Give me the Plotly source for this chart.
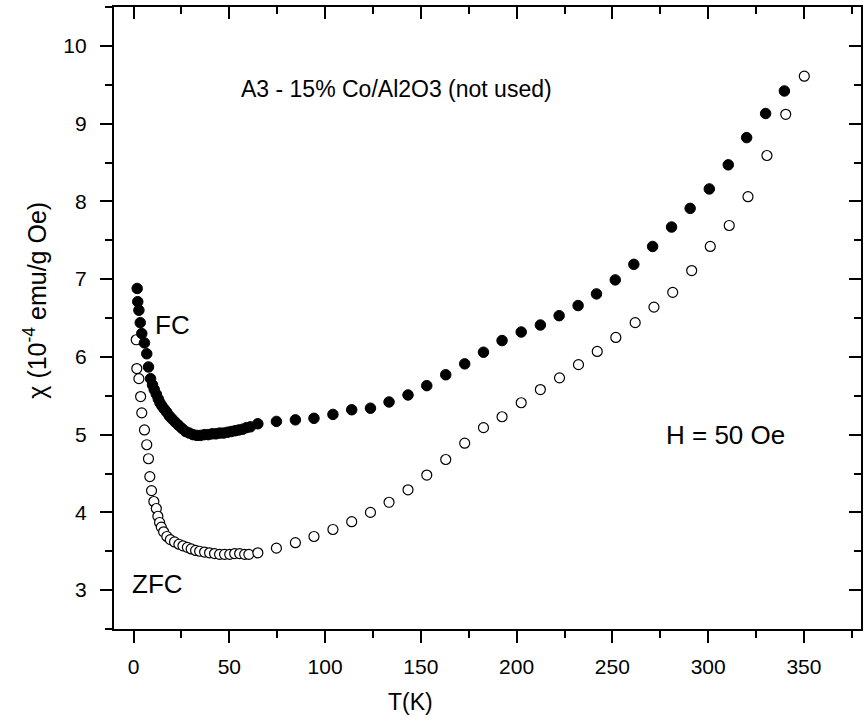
import plotly.graph_objects as go

# Field-cooled susceptibility, chi in 1e-4 emu/(g Oe)
fc_T = [1.9, 2.2, 2.8, 3.5, 4.3, 5.7, 6.9, 7.8, 8.9, 9.9, 10.8, 11.9, 12.9, 13.8,
        14.8, 16.0, 17.3, 18.7, 20.2, 21.8, 23.5, 25.3, 27.2, 29.1, 31.0, 33.0,
        35.0, 37.0, 39.0, 41.0, 43.0, 45.0, 47.0, 49.0, 51.0, 53.0, 55.0, 57.0,
        59.0, 61.0, 64.9, 74.6, 84.5, 94.2, 104.1, 113.9, 123.7, 133.4, 143.3,
        153.1, 163.0, 172.9, 182.7, 192.4, 202.4, 212.4, 222.2, 232.1, 241.7,
        251.5, 261.2, 271.0, 280.9, 290.6, 300.6, 310.5, 320.1, 330.0, 339.8]
fc_chi = [6.88, 6.71, 6.60, 6.44, 6.30, 6.18, 6.04, 5.87, 5.72, 5.64, 5.58, 5.52,
          5.46, 5.41, 5.37, 5.33, 5.29, 5.24, 5.20, 5.16, 5.12, 5.08, 5.04, 5.02,
          5.00, 4.99, 4.99, 5.00, 5.00, 5.01, 5.01, 5.02, 5.02, 5.03, 5.04, 5.05,
          5.06, 5.07, 5.09, 5.10, 5.14, 5.17, 5.19, 5.21, 5.26, 5.32, 5.34, 5.42,
          5.51, 5.63, 5.77, 5.91, 6.06, 6.21, 6.32, 6.41, 6.53, 6.66, 6.81, 6.99,
          7.19, 7.42, 7.67, 7.91, 8.16, 8.47, 8.82, 9.13, 9.42]

# Zero-field-cooled susceptibility
zfc_T = [1.4, 1.7, 2.8, 3.7, 4.3, 5.7, 6.9, 7.8, 8.5, 9.4, 10.6, 11.9, 12.7, 13.6,
         14.5, 15.7, 17.4, 19.2, 21.4, 23.7, 25.8, 28.1, 30.1, 32.4, 34.5, 37.1,
         39.7, 42.3, 44.9, 47.5, 50.2, 52.8, 55.4, 58.0, 60.2, 64.9, 74.6, 84.5,
         94.2, 104.1, 113.9, 123.7, 133.4, 143.3, 153.1, 163.0, 172.9, 182.7,
         192.4, 202.4, 212.4, 222.4, 232.3, 242.1, 251.8, 261.9, 271.7, 281.5,
         291.4, 301.1, 311.0, 320.8, 330.7, 340.5, 350.2]
zfc_chi = [6.22, 5.85, 5.72, 5.49, 5.28, 5.06, 4.87, 4.69, 4.46, 4.28, 4.14, 4.05,
           3.95, 3.87, 3.81, 3.75, 3.69, 3.65, 3.62, 3.59, 3.57, 3.55, 3.53, 3.51,
           3.50, 3.49, 3.48, 3.47, 3.46, 3.46, 3.46, 3.47, 3.47, 3.46, 3.46, 3.48,
           3.54, 3.61, 3.69, 3.78, 3.88, 4.00, 4.13, 4.29, 4.48, 4.68, 4.89, 5.09,
           5.23, 5.41, 5.58, 5.73, 5.90, 6.07, 6.25, 6.44, 6.64, 6.83, 7.11, 7.42,
           7.69, 8.06, 8.59, 9.12, 9.61]

x_ticks = [0, 50, 100, 150, 200, 250, 300, 350]
y_ticks = [3, 4, 5, 6, 7, 8, 9, 10]
x_range = [-10.2, 379.8]
y_range = [2.5, 10.5]

FONT = "Liberation Sans, Arial, sans-serif"

fig = go.Figure()

fig.add_trace(go.Scatter(
    x=zfc_T, y=zfc_chi, mode="markers", name="ZFC",
    marker=dict(symbol="circle", size=10, color="white",
                line=dict(color="black", width=1.2)),
    showlegend=False,
))
fig.add_trace(go.Scatter(
    x=fc_T, y=fc_chi, mode="markers", name="FC",
    marker=dict(symbol="circle", size=10.5, color="black",
                line=dict(color="black", width=1)),
    showlegend=False,
))
# empty trace so the mirrored top/right axes get drawn
fig.add_trace(go.Scatter(x=[None], y=[None], xaxis="x2", yaxis="y2",
                         showlegend=False, hoverinfo="skip"))

axis_common = dict(
    showgrid=False, zeroline=False, showline=True, linecolor="black",
    linewidth=2.2, tickcolor="black", tickwidth=2, ticklen=12,
)

fig.update_layout(
    width=865, height=727,
    margin=dict(l=114, r=4, t=7, b=98),
    paper_bgcolor="white", plot_bgcolor="white",
    font=dict(family=FONT, size=21, color="black"),
    xaxis=dict(
        range=x_range, tickvals=x_ticks, ticks="outside",
        tickfont=dict(size=21), ticklabelstandoff=6,
        minor=dict(dtick=25, tick0=0, ticks="outside", ticklen=7,
                   tickwidth=2, tickcolor="black"),
        **axis_common,
    ),
    yaxis=dict(
        range=y_range, tickvals=y_ticks, ticks="outside",
        tickfont=dict(size=21), ticklabelstandoff=9,
        minor=dict(dtick=0.5, tick0=0, ticks="outside", ticklen=7,
                   tickwidth=2, tickcolor="black"),
        **axis_common,
    ),
    xaxis2=dict(
        range=x_range, overlaying="x", side="top", anchor="y2",
        tickvals=x_ticks, ticks="inside", showticklabels=False,
        minor=dict(dtick=25, tick0=0, ticks="inside", ticklen=7,
                   tickwidth=2, tickcolor="black"),
        **axis_common,
    ),
    yaxis2=dict(
        range=y_range, overlaying="y", side="right", anchor="x2",
        tickvals=y_ticks, ticks="inside", showticklabels=False,
        minor=dict(dtick=0.5, tick0=0, ticks="inside", ticklen=7,
                   tickwidth=2, tickcolor="black"),
        **axis_common,
    ),
)

annotations = [
    dict(text="A3 - 15% Co/Al2O3 (not used)", x=137.2, y=9.44,
         xref="x", yref="y", font=dict(size=23)),
    dict(text="FC", x=10.4, y=6.41, xref="x", yref="y",
         xanchor="left", font=dict(size=26)),
    dict(text="ZFC", x=-2.1, y=3.08, xref="x", yref="y",
         xanchor="left", font=dict(size=26)),
    dict(text="H = 50 Oe", x=276.9, y=4.99, xref="x", yref="y",
         xanchor="left", font=dict(size=26)),
    dict(text="T(K)", x=144.7, y=-0.118, xref="x", yref="paper",
         font=dict(size=23)),
    dict(text="χ (10<sup>-4</sup> emu/g Oe)", x=-0.105, y=6.73,
         xref="paper", yref="y", textangle=-90, font=dict(size=25)),
]
for a in annotations:
    a.setdefault("showarrow", False)
    a.setdefault("xanchor", "center")
    a.setdefault("yanchor", "middle")
    fig.add_annotation(**a)

fig.write_html("out.html")
